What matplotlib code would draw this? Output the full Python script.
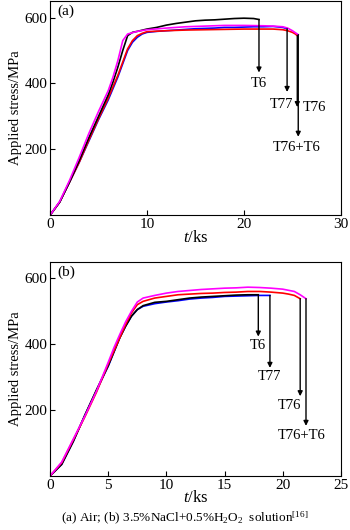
import matplotlib
matplotlib.use("Agg")
import matplotlib.pyplot as plt

plt.rcParams['font.family'] = ['Liberation Serif', 'DejaVu Serif']
plt.rcParams['mathtext.fontset'] = 'custom'
plt.rcParams['mathtext.rm'] = 'Liberation Serif'
plt.rcParams['mathtext.it'] = 'Liberation Serif:italic'

# ---------------- Panel (a): Air ----------------
a_T6_t = [0, 1, 2, 3, 4, 5, 6, 6.5, 7, 7.5, 8, 8.5, 9, 10, 11, 12, 13, 14, 15, 16, 17, 18, 19, 20, 21, 21.55]
a_T6_s = [0, 40, 100, 165, 235, 300, 365, 405, 450, 500, 545, 555, 558, 565, 570, 577, 582, 586, 590, 592, 593, 595, 597, 598, 597, 594]
a_T77_t = [0, 1, 2, 3, 4, 5, 6, 7, 7.5, 8, 8.5, 9, 9.5, 10, 11, 12, 13, 14, 15, 16, 17, 18, 19, 20, 21, 22, 23, 24, 24.45]
a_T77_s = [0, 40, 100, 160, 225, 290, 350, 420, 460, 500, 525, 540, 550, 555, 558, 560, 562, 564, 566, 567, 568, 570, 570, 571, 572, 572, 573, 570, 566]
a_T76_t = [0, 1, 2, 3, 4, 5, 6, 7, 7.5, 8, 8.5, 9, 9.5, 10, 12, 14, 16, 18, 20, 22, 23, 24, 24.5, 25, 25.3, 25.5]
a_T76_s = [0, 40, 100, 160, 228, 293, 355, 425, 465, 505, 530, 545, 552, 557, 560, 562, 563, 564, 565, 565, 565, 563, 560, 555, 550, 545]
a_T76T6_t = [0, 1, 2, 3, 4, 5, 6, 6.5, 7, 7.5, 8, 9, 10, 12, 14, 16, 18, 20, 22, 23, 24, 24.5, 25, 25.6]
a_T76T6_s = [0, 42, 105, 175, 248, 315, 378, 420, 470, 530, 550, 558, 563, 568, 572, 574, 576, 576, 575, 574, 572, 568, 560, 548]

a_arrow_t = [21.55, 24.45, 25.5, 25.6]
a_arrow_start = [594, 566, 545, 548]
a_arrow_tip = [433, 374, 328, 238]
a_labels = ['T6', 'T77', 'T76', 'T76+T6']
a_label_t = [21.5, 23.9, 26.1, 25.4]
a_label_s = [400, 337, 328, 204]
a_label_ha = ['center', 'center', 'left', 'center']

# ---------------- Panel (b): solution ----------------
b_T6_t = [0, 1, 2, 3, 4, 5, 6, 6.5, 7, 7.5, 8, 9, 10, 11, 12, 13, 14, 15, 16, 17, 17.9]
b_T6_s = [0, 35, 105, 185, 262, 335, 420, 455, 485, 505, 517, 527, 530, 535, 540, 543, 545, 547, 549, 550, 550]
b_T77_t = [0, 1, 2, 3, 4, 5, 6, 6.5, 7, 7.5, 8, 9, 10, 11, 12, 13, 14, 15, 16, 17, 18, 18.9]
b_T77_s = [0, 35, 105, 185, 260, 333, 420, 455, 485, 505, 515, 523, 528, 532, 537, 540, 542, 545, 546, 547, 548, 548]
b_T76_t = [0, 1, 2, 3, 4, 5, 5.5, 6, 6.5, 7, 7.5, 8, 9, 10, 11, 12, 13, 14, 15, 16, 17, 18, 19, 20, 20.5, 21, 21.5]
b_T76_s = [0, 40, 110, 180, 255, 340, 380, 420, 460, 495, 520, 530, 540, 545, 550, 552, 554, 555, 557, 558, 560, 560, 558, 555, 552, 548, 538]
b_T76T6_t = [0, 1, 2, 3, 4, 5, 5.5, 6, 6.5, 7, 7.5, 8, 9, 10, 11, 12, 13, 14, 15, 16, 17, 18, 19, 20, 21, 21.5, 22]
b_T76T6_s = [0, 42, 112, 182, 258, 345, 390, 430, 468, 500, 528, 540, 548, 555, 560, 563, 566, 568, 570, 571, 573, 572, 570, 567, 560, 550, 538]

b_arrow_t = [17.9, 18.9, 21.5, 22.0]
b_arrow_start = [550, 548, 538, 538]
b_arrow_tip = [423, 328, 242, 152]
b_labels = ['T6', 'T77', 'T76', 'T76+T6']
b_label_t = [17.9, 18.9, 20.6, 21.6]
b_label_s = [395, 301, 214, 122]
b_label_ha = ['center', 'center', 'center', 'center']

fig = plt.figure(figsize=(3.5, 5.3), dpi=100)
ax1 = fig.add_axes([0.143, 0.594, 0.831, 0.404])
ax2 = fig.add_axes([0.143, 0.102, 0.831, 0.404])

TFS = 11
LFS = 10.5
LW = 1.2


def style(ax, xmax, xticks):
    ax.set_xlim(0, xmax)
    ax.set_ylim(0, 650)
    ax.set_xticks(xticks)
    ax.set_yticks([200, 400, 600])
    ax.tick_params(direction='in', length=3.5, width=0.8, labelsize=TFS, pad=2)
    for sp in ax.spines.values():
        sp.set_linewidth(0.8)
    ax.set_ylabel('Applied stress/MPa', fontsize=LFS, labelpad=2)
    ax.set_xlabel(r'$\it{t}$/ks', fontsize=12, labelpad=-1)


# panel a
ax1.plot(a_T77_t, a_T77_s, color='#0000ff', lw=LW)
ax1.plot(a_T76_t, a_T76_s, color='#ff0000', lw=LW)
ax1.plot(a_T6_t, a_T6_s, color='black', lw=LW)
ax1.plot(a_T76T6_t, a_T76T6_s, color='#ff00ff', lw=LW)
style(ax1, 30, [0, 10, 20, 30])
ax1.text(0.025, 0.985, '(a)', transform=ax1.transAxes, ha='left', va='top', fontsize=11)
for t, s0, s1, lab, lt, ls, ha in zip(a_arrow_t, a_arrow_start, a_arrow_tip, a_labels, a_label_t, a_label_s, a_label_ha):
    ax1.annotate('', xy=(t, s1), xytext=(t, s0),
                 arrowprops=dict(arrowstyle='-|>', color='black', lw=1.0, mutation_scale=7, shrinkA=0, shrinkB=0))
    ax1.text(lt, ls, lab, ha=ha, va='center', fontsize=LFS)

# panel b
ax2.plot(b_T77_t, b_T77_s, color='#0000ff', lw=LW)
ax2.plot(b_T6_t, b_T6_s, color='black', lw=LW)
ax2.plot(b_T76_t, b_T76_s, color='#ff0000', lw=LW)
ax2.plot(b_T76T6_t, b_T76T6_s, color='#ff00ff', lw=LW)
style(ax2, 25, [0, 5, 10, 15, 20, 25])
ax2.text(0.025, 0.985, '(b)', transform=ax2.transAxes, ha='left', va='top', fontsize=11)
for t, s0, s1, lab, lt, ls, ha in zip(b_arrow_t, b_arrow_start, b_arrow_tip, b_labels, b_label_t, b_label_s, b_label_ha):
    ax2.annotate('', xy=(t, s1), xytext=(t, s0),
                 arrowprops=dict(arrowstyle='-|>', color='black', lw=1.0, mutation_scale=7, shrinkA=0, shrinkB=0))
    ax2.text(lt, ls, lab, ha=ha, va='center', fontsize=LFS)

fig.text(0.527, 0.024, r'(a) Air; (b) 3.5%NaCl+0.5%H$_2$O$_2$  solution$^{[16]}$',
         ha='center', va='center', fontsize=9.5)

fig.savefig('out.png', dpi=100)
